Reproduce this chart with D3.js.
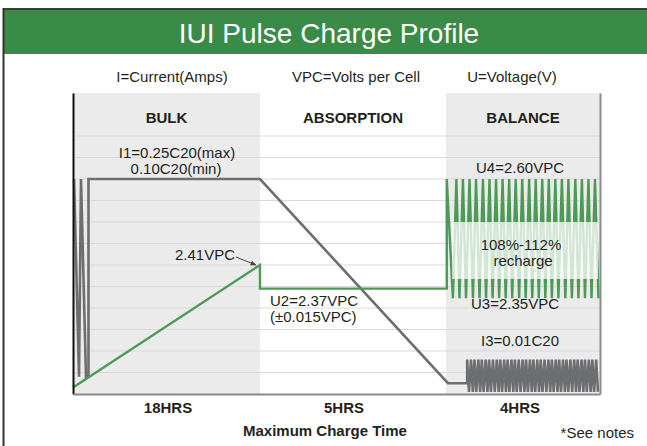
<!DOCTYPE html>
<html>
 <head>
    <title>IUI Pulse Charge Profile</title>
    <script src="https://d3js.org/d3.v7.min.js"></script>
    <style>
      body { margin: 0; background: #fff; }
      text { font-family: "Liberation Sans", Arial, sans-serif; fill: #231f20; }
    </style>
 </head>
 <body>
    <div id="chart"></div>
    <script>
      // phases of the charge (hours at each boundary)
      var phases = ["BULK", "ABSORPTION", "BALANCE"];
      var phaseBounds = [0, 18, 23, 27];
      var phaseHours = ["18HRS", "5HRS", "4HRS"];
      var shadedPhases = ["BULK", "BALANCE"];
      var gridLevels = [1, 2, 3, 4, 5, 6, 7, 8, 9, 10, 11, 12];

      // current profile [hour, level]
      var currentMain = [[0.1, 10], [0.58, 0.8], [0.77, 10], [1.25, 0.8], [1.49, 0.8], [1.49, 10],
                         [18, 10], [23.05, 0.5], [23.55, 0.5]];
      var currentPulseTop = 1.6, currentPulseLow = 0.1, currentPulseWidth = 0.047;
      var currentPulses = [23.55, 23.65, 23.74, 23.84, 23.93, 24.03, 24.12, 24.22, 24.32, 24.41,
                           24.51, 24.60, 24.70, 24.79, 24.89, 24.99, 25.08, 25.18, 25.27, 25.37,
                           25.46, 25.56, 25.66, 25.75, 25.85, 25.94, 26.04, 26.13, 26.23, 26.33,
                           26.42, 26.52, 26.61, 26.71, 26.80, 26.90];

      // voltage profile [hour, level]
      var voltageMain = [[0, 0.3], [18, 6.0], [18, 4.9], [23.02, 4.9], [23.02, 10]];
      var voltTop = 10, voltLow = 4.45;
      var voltPeaks = [23.27, 23.44, 23.61, 23.78, 23.96, 24.13, 24.30, 24.47, 24.64, 24.81, 24.98,
                       25.16, 25.33, 25.50, 25.67, 25.84, 26.01, 26.18, 26.36, 26.53, 26.70, 26.87];
      var voltTroughs = [23.18, 23.35, 23.52, 23.70, 23.87, 24.04, 24.21, 24.38, 24.55, 24.72, 24.90,
                         25.07, 25.24, 25.41, 25.58, 25.75, 25.92, 26.10, 26.27, 26.44, 26.61, 26.78, 26.96];

      var width = 647, height = 446;
      var green = "#4c9a56", gray = "#6d6e71", header = "#3a8a48";

      var svg = d3.select("#chart").append("svg")
        .attr("width", width).attr("height", height);

      var x = d3.scaleLinear().domain(phaseBounds).range([73, 260, 446, 600]);
      var y = d3.scaleLinear().domain([0, 14]).range([394, 93]);

      // frame + title bar
      svg.append("rect").attr("x", 4).attr("y", 10).attr("width", width - 4).attr("height", 44).attr("fill", header);
      svg.append("line").attr("x1", 3).attr("x2", width).attr("y1", 9).attr("y2", 9)
        .attr("stroke", "#3d3d3d").attr("stroke-width", 2);
      svg.append("line").attr("x1", 3.5).attr("x2", 3.5).attr("y1", 8).attr("y2", height)
        .attr("stroke", "#333").attr("stroke-width", 2);
      svg.append("text").attr("x", 329).attr("y", 43).attr("text-anchor", "middle")
        .style("font-size", "28px").style("fill", "#fff").text("IUI Pulse Charge Profile");

      // legend texts
      var legend = [["I=Current(Amps)", 172], ["VPC=Volts per Cell", 356], ["U=Voltage(V)", 512]];
      svg.selectAll(".legend").data(legend).enter().append("text")
        .attr("x", function (d) { return d[1]; }).attr("y", 82)
        .attr("text-anchor", "middle").style("font-size", "15px")
        .text(function (d) { return d[0]; });

      // shaded phase bands
      svg.selectAll(".band").data(phases).enter().append("rect")
        .filter(function (d) { return shadedPhases.indexOf(d) >= 0; })
        .attr("x", function (d) { var i = phases.indexOf(d); return x(phaseBounds[i]); })
        .attr("width", function (d) { var i = phases.indexOf(d); return x(phaseBounds[i + 1]) - x(phaseBounds[i]); })
        .attr("y", y(14)).attr("height", y(0) - y(14))
        .attr("fill", "#ebebeb");

      // grid lines
      svg.selectAll(".grid").data(gridLevels).enter().append("line")
        .attr("x1", x(0)).attr("x2", x(27))
        .attr("y1", function (d) { return y(d); }).attr("y2", function (d) { return y(d); })
        .attr("stroke", "#d9d9d9").attr("stroke-width", 1);

      // phase names and hours
      svg.selectAll(".phase").data(phases).enter().append("text")
        .attr("x", function (d, i) { return (x(phaseBounds[i]) + x(phaseBounds[i + 1])) / 2; })
        .attr("y", 123).attr("text-anchor", "middle")
        .style("font-size", "15px").style("font-weight", "bold").text(function (d) { return d; });
      var hourX = [168, 344, 520];
      svg.selectAll(".hrs").data(phaseHours).enter().append("text")
        .attr("x", function (d, i) { return hourX[i]; }).attr("y", 413).attr("text-anchor", "middle")
        .style("font-size", "15px").style("font-weight", "bold").text(function (d) { return d; });
      svg.append("text").attr("x", 325).attr("y", 436).attr("text-anchor", "middle")
        .style("font-size", "15px").style("font-weight", "bold").text("Maximum Charge Time");
      svg.append("text").attr("x", 634).attr("y", 438).attr("text-anchor", "end")
        .style("font-size", "15px").text("*See notes");

      var line = d3.line().x(function (d) { return x(d[0]); }).y(function (d) { return y(d[1]); });

      // current line
      var currentPts = currentMain.slice();
      currentPulses.forEach(function (t) {
        currentPts.push([t, currentPulseTop]);
        currentPts.push([t + currentPulseWidth, currentPulseLow]);
      });
      svg.append("path").datum(currentPts).attr("d", line)
        .attr("fill", "none").attr("stroke", gray).attr("stroke-width", 2.6)
        .attr("stroke-linejoin", "miter");

      // voltage line
      var voltPts = voltageMain.slice();
      voltTroughs.forEach(function (t, i) {
        voltPts.push([t, voltLow]);
        if (i < voltPeaks.length) voltPts.push([voltPeaks[i], voltTop]);
      });
      svg.append("path").datum(voltPts).attr("d", line)
        .attr("fill", "none").attr("stroke", green).attr("stroke-width", 2.4);

      // recharge box
      svg.append("rect").attr("x", x(23.16)).attr("y", y(8.0))
        .attr("width", x(26.95) - x(23.16)).attr("height", y(5.35) - y(8.0))
        .attr("fill", "#fff").attr("opacity", 0.75);

      // axes
      var yAxis = d3.axisLeft(y).ticks(0).tickSizeOuter(0);
      var gy = svg.append("g").attr("transform", "translate(" + x(0) + ",0)").call(yAxis);
      gy.select(".domain").attr("stroke", "#111").attr("stroke-width", 2);
      var xAxis = d3.axisBottom(x).tickValues([]).tickSizeOuter(0);
      var gx = svg.append("g").attr("transform", "translate(0," + y(0) + ")").call(xAxis);
      gx.select(".domain").attr("stroke", "#8a8a8a").attr("stroke-width", 2);
      var gr = svg.append("g").attr("transform", "translate(" + x(27) + ",0)").call(d3.axisRight(y).ticks(0).tickSizeOuter(0));
      gr.select(".domain").attr("stroke", "#8a8a8a").attr("stroke-width", 2);

      // annotations
      function label(txt, px, py, anchor) {
        svg.append("text").attr("x", px).attr("y", py).attr("text-anchor", anchor || "middle")
          .style("font-size", "15px").text(txt);
      }
      label("I1=0.25C20(max)", 177, 158);
      label("0.10C20(min)", 176, 174);
      label("2.41VPC", 235, 260, "end");
      label("U2=2.37VPC", 270, 306, "start");
      label("(±0.015VPC)", 270, 322, "start");
      label("U4=2.60VPC", 520, 173);
      label("108%-112%", 521, 250);
      label("recharge", 523, 266);
      label("U3=2.35VPC", 515, 309);
      label("I3=0.01C20", 520, 346);

      // arrow to 2.41VPC
      svg.append("defs").append("marker").attr("id", "arr")
        .attr("viewBox", "0 0 10 10").attr("refX", 9).attr("refY", 5)
        .attr("markerWidth", 6).attr("markerHeight", 6).attr("orient", "auto")
        .append("path").attr("d", "M0,1 L10,5 L0,9 z").attr("fill", "#444");
      svg.append("line").attr("x1", 236).attr("y1", 257).attr("x2", x(18) - 4).attr("y2", y(6.0))
        .attr("stroke", "#444").attr("stroke-width", 1).attr("marker-end", "url(#arr)");
    </script>
 </body>
</html>
